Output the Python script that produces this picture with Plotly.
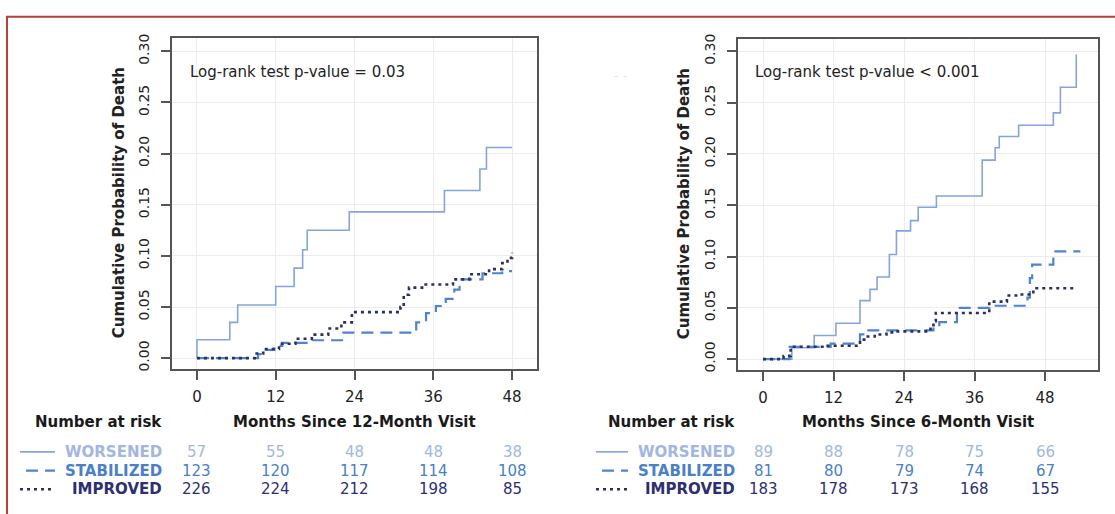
import plotly.graph_objects as go

W, H = 1115, 514

# ---------------- data ----------------
months_ticks = [0, 12, 24, 36, 48]
prob_ticks = [0.0, 0.05, 0.10, 0.15, 0.20, 0.25, 0.30]
prob_tick_labels = ["0.00", "0.05", "0.10", "0.15", "0.20", "0.25", "0.30"]
groups = ["WORSENED", "STABILIZED", "IMPROVED"]

# Left panel: months since 12-month visit
t12_worsened = [0, 0, 5.0, 6.2, 12.0, 14.8, 16.1, 16.8, 23.2, 37.7, 43.1, 44.1, 48]
p12_worsened = [0, 0.018, 0.035, 0.052, 0.070, 0.088, 0.106, 0.125, 0.143, 0.164, 0.185, 0.206, 0.206]
t12_stabilized = [0, 9.3, 10.5, 11.8, 13.0, 17.6, 22.3, 33.4, 34.9, 36.4, 37.9, 39.2, 40.0, 43.5, 46.5, 48]
p12_stabilized = [0, 0.004, 0.008, 0.012, 0.015, 0.0175, 0.025, 0.035, 0.044, 0.051, 0.058, 0.067, 0.077, 0.083, 0.085, 0.085]
t12_improved = [0, 8.8, 10.1, 12.5, 15.0, 17.5, 20.0, 22.0, 23.6, 31.0, 31.5, 32.3, 34.5, 39.0, 41.5, 44.5, 46.5, 47.3, 48]
p12_improved = [0, 0.0045, 0.009, 0.014, 0.019, 0.023, 0.029, 0.035, 0.045, 0.050, 0.062, 0.069, 0.072, 0.077, 0.082, 0.087, 0.093, 0.098, 0.103]

# Right panel: months since 6-month visit
t6_worsened = [0, 4.9, 8.7, 12.4, 16.5, 18.2, 19.4, 21.5, 22.7, 25.1, 26.4, 29.5, 37.3, 39.5, 40.2, 43.5, 49.4, 50.6, 53.3]
p6_worsened = [0, 0.011, 0.023, 0.035, 0.057, 0.068, 0.080, 0.102, 0.125, 0.135, 0.148, 0.159, 0.194, 0.206, 0.217, 0.228, 0.240, 0.265, 0.297]
t6_stabilized = [0, 4.5, 11.5, 16.5, 17.5, 29.0, 30.0, 33.0, 38.5, 45.0, 45.4, 45.8, 49.4, 54.0]
p6_stabilized = [0, 0.012, 0.015, 0.024, 0.028, 0.033, 0.036, 0.050, 0.052, 0.060, 0.079, 0.092, 0.105, 0.105]
t6_improved = [0, 3.5, 4.7, 11.0, 16.5, 17.5, 19.0, 21.0, 22.5, 28.5, 29.0, 29.4, 38.5, 41.5, 43.5, 46.0, 53.4]
p6_improved = [0, 0.003, 0.012, 0.013, 0.019, 0.022, 0.024, 0.026, 0.027, 0.031, 0.037, 0.045, 0.056, 0.062, 0.063, 0.069, 0.069]

# Numbers at risk
risk12 = {"WORSENED": [57, 55, 48, 48, 38],
          "STABILIZED": [123, 120, 117, 114, 108],
          "IMPROVED": [226, 224, 212, 198, 85]}
risk6 = {"WORSENED": [89, 88, 78, 75, 66],
         "STABILIZED": [81, 80, 79, 74, 67],
         "IMPROVED": [183, 178, 173, 168, 155]}

pvalue_text = ["Log-rank test p-value = 0.03", "Log-rank test p-value < 0.001"]
xtitles = ["Months Since 12-Month Visit", "Months Since 6-Month Visit"]
ytitle = "Cumulative Probability of Death"

# ---------------- styles ----------------
FONT = "DejaVu Sans"
line_col = {"WORSENED": "#86a4db", "STABILIZED": "#4f84cb", "IMPROVED": "#2b2f66"}
text_col = {"WORSENED": "#a2b7e0", "STABILIZED": "#4a80c8", "IMPROVED": "#2d3070"}
dash = {"WORSENED": "solid", "STABILIZED": "12px,7px", "IMPROVED": "3px,4px"}
lw = {"WORSENED": 1.6, "STABILIZED": 2.2, "IMPROVED": 2.6}

def px_x(p):
    return p / W

def px_y(p):
    return 1 - p / H

fig = go.Figure()

panels = [
    ("x", "y", [(t12_worsened, p12_worsened), (t12_stabilized, p12_stabilized), (t12_improved, p12_improved)]),
    ("x2", "y2", [(t6_worsened, p6_worsened), (t6_stabilized, p6_stabilized), (t6_improved, p6_improved)]),
]
for xa, ya, series in panels:
    for g, (t, p) in zip(groups, series):
        fig.add_trace(go.Scatter(x=t, y=p, mode="lines", line_shape="hv", xaxis=xa, yaxis=ya,
                                 line=dict(color=line_col[g], width=lw[g], dash=dash[g]),
                                 hoverinfo="skip", showlegend=False))

common_x = dict(tickvals=months_ticks, ticks="outside", ticklen=9, tickwidth=1.5, tickcolor="#555",
                showline=True, linecolor="#555", linewidth=2, mirror=True,
                showgrid=True, gridcolor="#ececec", gridwidth=1, zeroline=False,
                tickfont=dict(family=FONT, size=15, color="#222"), ticklabelstandoff=4)
common_y = dict(tickvals=prob_ticks, ticktext=prob_tick_labels, tickangle=-90,
                ticks="outside", ticklen=9, tickwidth=1.5, tickcolor="#555",
                showline=True, linecolor="#555", linewidth=2, mirror=True,
                showgrid=True, gridcolor="#ececec", gridwidth=1, zeroline=False,
                tickfont=dict(family=FONT, size=14, color="#222"), ticklabelstandoff=6)

fig.update_layout(
    width=W, height=H, margin=dict(l=0, r=0, t=0, b=0),
    paper_bgcolor="white", plot_bgcolor="white", showlegend=False,
    xaxis=dict(domain=[px_x(172), px_x(537)], range=[-3.8, 51.8], anchor="y", **common_x),
    yaxis=dict(domain=[px_y(369), px_y(33)], range=[-0.0106, 0.3135], anchor="x", **common_y),
    xaxis2=dict(domain=[px_x(738), px_x(1098)], range=[-4.26, 57.0], anchor="y2", **common_x),
    yaxis2=dict(domain=[px_y(370), px_y(34)], range=[-0.0106, 0.3125], anchor="x2", **common_y),
)

ann = []
shapes = []
risk_sets = [risk12, risk6]
label_right = [164, 737]
legend_x = [(20, 55), (596, 628)]
title_x = [119, 684]
row_y = [453, 472, 491]
header_y = 423

for i, (xa, ya, _) in enumerate(panels):
    ann.append(dict(text=pvalue_text[i], xref="paper", yref="paper",
                    x=px_x([188, 753][i]), y=px_y(68), xanchor="left", yanchor="middle",
                    showarrow=False, font=dict(family=FONT, size=15, color="#222")))
    ann.append(dict(text="<b>" + ytitle + "</b>", xref="paper", yref=f"{ya} domain",
                    x=px_x(title_x[i]), y=0.5, xanchor="center", yanchor="middle", textangle=-90,
                    showarrow=False, font=dict(family=FONT, size=15, color="#222")))
    ann.append(dict(text="<b>" + xtitles[i] + "</b>", xref=f"{xa} domain", yref="paper",
                    x=0.5, y=px_y(header_y), xanchor="center", yanchor="middle",
                    showarrow=False, font=dict(family=FONT, size=15, color="#1a1a1a")))
    ann.append(dict(text="<b>Number at risk</b>", xref="paper", yref="paper",
                    x=px_x(label_right[i]), y=px_y(header_y), xanchor="right", yanchor="middle",
                    showarrow=False, font=dict(family=FONT, size=15, color="#1a1a1a")))
    for r, g in enumerate(groups):
        ann.append(dict(text="<b>" + g + "</b>", xref="paper", yref="paper",
                        x=px_x(label_right[i]), y=px_y(row_y[r]), xanchor="right", yanchor="middle",
                        showarrow=False, font=dict(family=FONT, size=15, color=text_col[g])))
        for tv, n in zip(months_ticks, risk_sets[i][g]):
            ann.append(dict(text=str(n), xref=xa, yref="paper", x=tv, y=px_y(row_y[r]),
                            xanchor="center", yanchor="middle", showarrow=False,
                            font=dict(family=FONT, size=15, color=text_col[g])))
        x0, x1 = legend_x[i]
        if g == "STABILIZED":
            x0 += 6
        shapes.append(dict(type="line", xref="paper", yref="paper",
                           x0=px_x(x0), x1=px_x(x1), y0=px_y(row_y[r]), y1=px_y(row_y[r]),
                           line=dict(color=line_col[g], width=lw[g], dash=dash[g])))

ann.append(dict(text="- -", xref="paper", yref="paper", x=px_x(621), y=px_y(62),
                showarrow=False, font=dict(family=FONT, size=13, color="#e2e2e2")))

shapes.append(dict(type="rect", xref="paper", yref="paper", x0=px_x(7), x1=px_x(1125),
                   y0=px_y(524), y1=px_y(12), line=dict(color="#b8403a", width=2)))

fig.update_layout(annotations=ann, shapes=shapes)
fig.write_html("out.html", config={"displayModeBar": False},
               post_script="document.body.style.margin='0';document.body.style.padding='0';")
